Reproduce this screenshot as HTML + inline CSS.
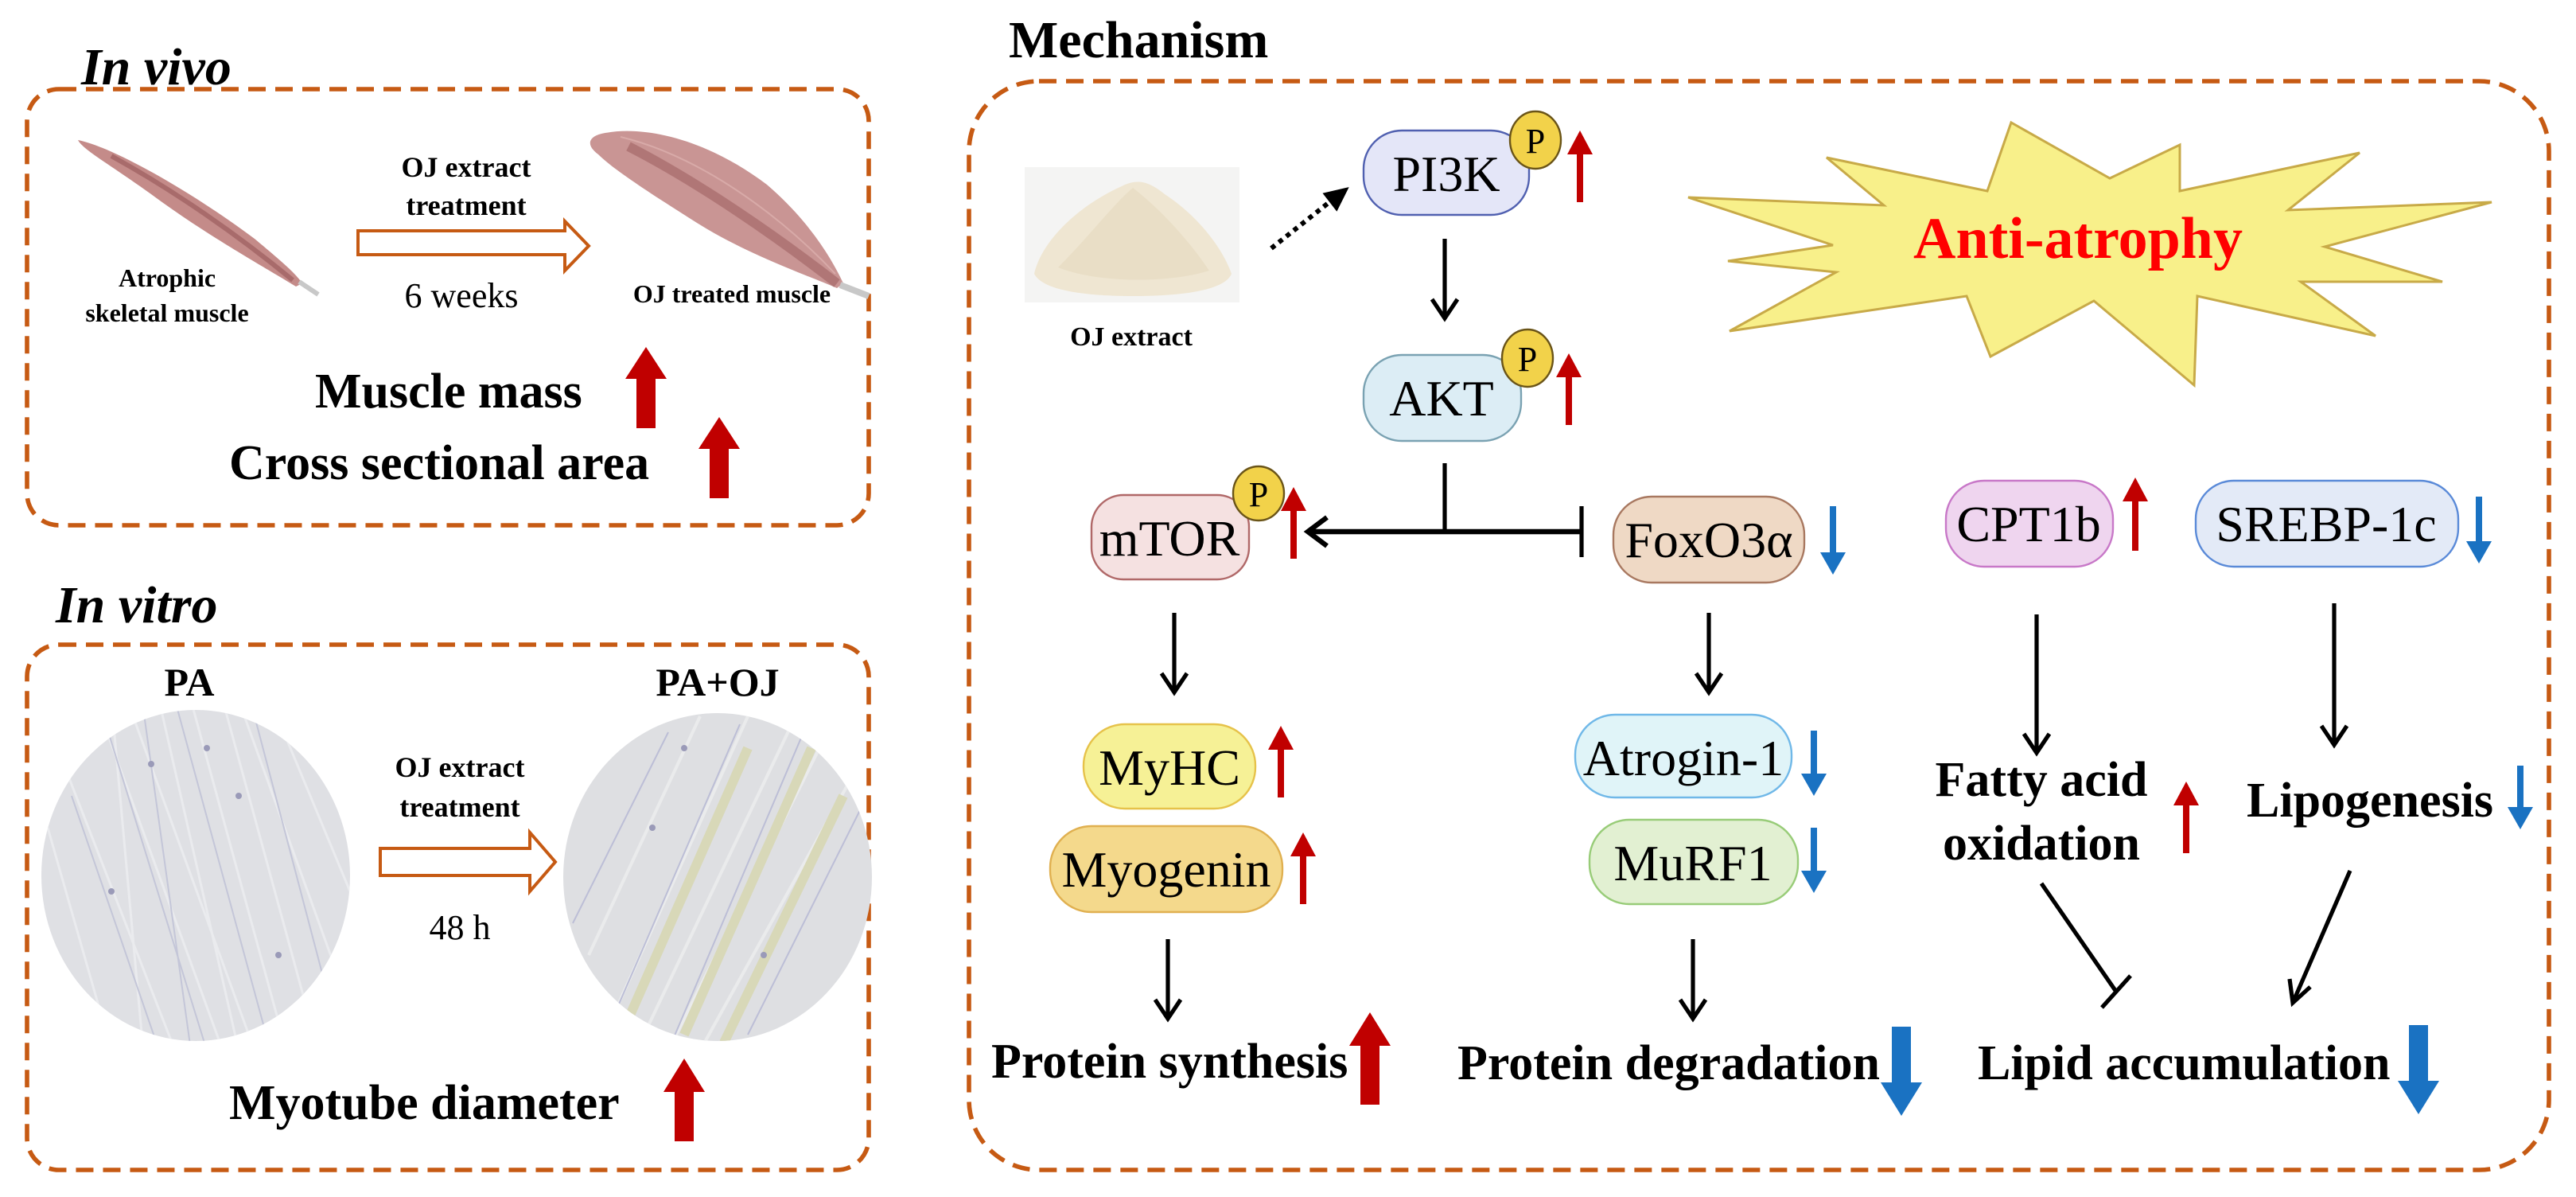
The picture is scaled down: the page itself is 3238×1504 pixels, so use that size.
<!DOCTYPE html>
<html><head><meta charset="utf-8"><style>
html,body{margin:0;padding:0;background:#fff;}
svg{display:block;}
text{font-family:"Liberation Serif",serif;}
</style></head><body>
<svg width="3238" height="1504" viewBox="0 0 1619 752" xmlns="http://www.w3.org/2000/svg">
<defs>
<clipPath id="c1"><ellipse cx="123" cy="550" rx="97" ry="104"/></clipPath>
<clipPath id="c2"><ellipse cx="451" cy="551" rx="97" ry="103"/></clipPath>
</defs>
<rect width="1619" height="752" fill="#fff"/>

<text x="51" y="53" font-size="33" font-weight="bold" font-style="italic">In vivo</text>
<text x="35" y="391" font-size="33" font-weight="bold" font-style="italic">In vitro</text>
<text x="634" y="36" font-size="33" font-weight="bold">Mechanism</text>

<g fill="none" stroke="#c65a13" stroke-width="2.8" stroke-dasharray="11 6">
<rect x="17" y="56" width="529" height="274" rx="20"/>
<rect x="17" y="405" width="529" height="330" rx="20"/>
<rect x="609" y="51" width="993" height="684" rx="44"/>
</g>

<g>
<path d="M49,88 C70,92 120,120 160,150 C178,165 186,172 190,178 L186,180 C170,170 130,148 95,122 C70,104 52,94 49,88 Z" fill="#c48b89"/>
<path d="M70,98 C110,120 150,148 184,176" stroke="#a86b6b" stroke-width="3" fill="none"/>
<path d="M188,177 L200,185" stroke="#c8c8c8" stroke-width="3"/>
<path d="M378,84 C405,78 445,88 482,116 C510,140 524,165 530,178 L526,181 C505,172 470,160 438,140 C408,121 385,106 376,97 C368,91 370,86 378,84 Z" fill="#c99594"/>
<path d="M395,92 C440,115 490,150 526,178" stroke="#b07676" stroke-width="6" fill="none"/>
<path d="M390,86 C440,98 490,135 525,172" stroke="#d8aaa8" stroke-width="1" fill="none"/>
<path d="M528,179 L546,186" stroke="#c8c8c8" stroke-width="4"/>
<text x="105" y="180" font-size="16" font-weight="bold" text-anchor="middle">Atrophic</text>
<text x="105" y="202" font-size="16" font-weight="bold" text-anchor="middle">skeletal muscle</text>
<text x="293" y="111" font-size="18" font-weight="bold" text-anchor="middle">OJ extract</text>
<text x="293" y="135" font-size="18" font-weight="bold" text-anchor="middle">treatment</text>
<path d="M225,145 L355,145 L355,139 L370,154.5 L355,170 L355,160 L225,160 Z" fill="#fff" stroke="#c65a13" stroke-width="2"/>
<text x="290" y="193" font-size="22" text-anchor="middle">6 weeks</text>
<text x="460" y="190" font-size="16" font-weight="bold" text-anchor="middle">OJ treated muscle</text>
<text x="198" y="256" font-size="31" font-weight="bold">Muscle mass</text>
<text x="144" y="301" font-size="31" font-weight="bold">Cross sectional area</text>
<path d="M400,269 L400,238 L393,238 L406,218 L419,238 L412,238 L412,269 Z" fill="#c00000"/>
<path d="M446,313 L446,282 L439,282 L452,262 L465,282 L458,282 L458,313 Z" fill="#c00000"/>
</g>

<text x="119" y="437" font-size="25" font-weight="bold" text-anchor="middle">PA</text>
<text x="451" y="437" font-size="25" font-weight="bold" text-anchor="middle">PA+OJ</text>
<ellipse cx="123" cy="550" rx="97" ry="104" fill="#dfe0e4"/>
<g clip-path="url(#c1)" stroke-width="1" fill="none">
<path d="M60,440 L140,660 M80,440 L160,660 M100,440 L150,660 M120,440 L180,660 M140,440 L200,660 M40,480 L110,660 M150,440 L215,620 M70,440 L90,660 M170,440 L220,560 M30,520 L70,660" stroke="#eaebee" stroke-width="1.5"/>
<path d="M65,450 L130,660 M110,440 L170,660 M45,500 L100,660 M160,450 L210,640 M90,445 L120,660" stroke="#c4c6d8"/>
<circle cx="95" cy="480" r="2" fill="#9a9ab8"/><circle cx="150" cy="500" r="2" fill="#9a9ab8"/><circle cx="70" cy="560" r="2" fill="#9a9ab8"/><circle cx="175" cy="600" r="2" fill="#9a9ab8"/><circle cx="130" cy="470" r="2" fill="#9a9ab8"/>
</g>
<ellipse cx="451" cy="551" rx="97" ry="103" fill="#dedfe2"/>
<g clip-path="url(#c2)" fill="none">
<path d="M380,650 L470,450 M400,660 L500,450 M420,660 L520,460 M370,600 L440,450 M440,660 L540,480" stroke="#eaebec" stroke-width="2"/>
<path d="M395,640 L470,470 M430,650 L510,470 M455,655 L530,500" stroke="#d8d8b8" stroke-width="6"/>
<path d="M385,640 L465,455 M420,660 L505,460 M470,650 L545,500 M360,580 L420,460" stroke="#bcbed6" stroke-width="1"/>
<circle cx="410" cy="520" r="2" fill="#9a9ab8"/><circle cx="480" cy="600" r="2" fill="#9a9ab8"/><circle cx="430" cy="470" r="2" fill="#9a9ab8"/>
</g>
<text x="289" y="488" font-size="18" font-weight="bold" text-anchor="middle">OJ extract</text>
<text x="289" y="513" font-size="18" font-weight="bold" text-anchor="middle">treatment</text>
<path d="M239,533 L333,533 L333,523 L349,541.5 L333,560 L333,550 L239,550 Z" fill="#fff" stroke="#c65a13" stroke-width="2"/>
<text x="289" y="590" font-size="22" text-anchor="middle">48 h</text>
<text x="144" y="703" font-size="31" font-weight="bold">Myotube diameter</text>
<path d="M424,717 L424,686 L417,686 L430,665 L443,686 L436,686 L436,717 Z" fill="#c00000"/>

<rect x="644" y="105" width="135" height="85" fill="#f4f4f3"/>
<path d="M650,172 C655,150 680,128 705,117 C715,112 722,114 732,122 C752,135 768,155 774,172 C770,182 745,186 712,186 C680,186 655,182 650,172 Z" fill="#efe6d2"/>
<path d="M665,168 C685,148 700,128 712,118 C730,132 748,152 760,170 C735,178 690,178 665,168 Z" fill="#e9dec6"/>
<text x="711" y="217" font-size="17" font-weight="bold" text-anchor="middle">OJ extract</text>

<line x1="799" y1="156" x2="838" y2="125" stroke="#000" stroke-width="3" stroke-dasharray="3 3"/>
<path d="M846,119 L833,122 L840,131 Z" fill="#000" stroke="#000" stroke-width="2"/>

<polygon points="1061,124 1184,129 1148,99 1249,120 1264,77 1326,112 1370,91 1370,120 1483,96 1438,132 1566,127 1461,155 1535,177 1446,177 1493,211 1381,186 1379,242 1316,189 1251,224 1236,186 1087,208 1154,171 1086,164 1152,154" fill="#f8f08a" stroke="#c8aa48" stroke-width="1.5"/>
<text x="1306" y="162" font-size="37" font-weight="bold" fill="#ff0000" text-anchor="middle">Anti-atrophy</text>

<g font-size="32" text-anchor="middle">
<rect x="857" y="82" width="104" height="53" rx="24" fill="#e4e6f8" stroke="#5060b0" stroke-width="1.2"/>
<text x="909" y="120">PI3K</text>
<rect x="857" y="223" width="99" height="54" rx="24" fill="#dcedf5" stroke="#7aa2b2" stroke-width="1.2"/>
<text x="906" y="261">AKT</text>
<rect x="686" y="311" width="99" height="53" rx="20" fill="#f5e1e1" stroke="#b06868" stroke-width="1.2"/>
<text x="735" y="349">mTOR</text>
<rect x="1014" y="312" width="120" height="54" rx="24" fill="#efd9c5" stroke="#a87860" stroke-width="1.2"/>
<text x="1074" y="350">FoxO3α</text>
<rect x="1223" y="302" width="105" height="54" rx="24" fill="#efd5ef" stroke="#c878c8" stroke-width="1.2"/>
<text x="1275" y="340">CPT1b</text>
<rect x="1380" y="302" width="165" height="54" rx="24" fill="#e3eaf7" stroke="#5a8ad8" stroke-width="1.2"/>
<text x="1462" y="340">SREBP-1c</text>
<rect x="681" y="455" width="108" height="53" rx="26" fill="#f6f196" stroke="#e6c24a" stroke-width="1.2"/>
<text x="735" y="493">MyHC</text>
<rect x="660" y="519" width="146" height="54" rx="26" fill="#f4d98c" stroke="#e0b050" stroke-width="1.2"/>
<text x="733" y="557">Myogenin</text>
<rect x="990" y="449" width="136" height="52" rx="25" fill="#e0f4f8" stroke="#70b8e8" stroke-width="1.2"/>
<text x="1058" y="487">Atrogin-1</text>
<rect x="999" y="515" width="131" height="53" rx="25" fill="#e2f0d2" stroke="#98cc78" stroke-width="1.2"/>
<text x="1064" y="553">MuRF1</text>
</g>

<g font-size="22" text-anchor="middle">
<ellipse cx="965" cy="88" rx="16" ry="18" fill="#f2d24a" stroke="#6a5418" stroke-width="1.2"/>
<text x="965" y="96">P</text>
<ellipse cx="960" cy="225" rx="16" ry="18" fill="#f2d24a" stroke="#6a5418" stroke-width="1.2"/>
<text x="960" y="233">P</text>
<ellipse cx="791" cy="310" rx="16" ry="17" fill="#f2d24a" stroke="#6a5418" stroke-width="1.2"/>
<text x="791" y="318">P</text>
</g>

<g stroke="#000" stroke-width="2.6" fill="none">
<line x1="908" y1="150" x2="908" y2="200"/><path d="M900,188 L908,200 L916,188"/>
<line x1="908" y1="291" x2="908" y2="334"/>
<line x1="822" y1="334" x2="994" y2="334" stroke-width="3.2"/>
<path d="M834,325 L822,334 L834,343" stroke-width="3.2"/>
<line x1="994" y1="318" x2="994" y2="350" stroke-width="2.6"/>
<line x1="738" y1="385" x2="738" y2="435"/><path d="M730,423 L738,435 L746,423"/>
<line x1="734" y1="590" x2="734" y2="640"/><path d="M726,628 L734,640 L742,628"/>
<line x1="1074" y1="385" x2="1074" y2="435"/><path d="M1066,423 L1074,435 L1082,423"/>
<line x1="1064" y1="590" x2="1064" y2="640"/><path d="M1056,628 L1064,640 L1072,628"/>
<line x1="1280" y1="386" x2="1280" y2="473"/><path d="M1272,461 L1280,473 L1288,461"/>
<line x1="1467" y1="379" x2="1467" y2="468"/><path d="M1459,456 L1467,468 L1475,456"/>
<line x1="1283" y1="555" x2="1330" y2="623"/><line x1="1321" y1="633" x2="1339" y2="613"/>
<line x1="1477" y1="547" x2="1441" y2="630"/><path d="M1439,615 L1441,630 L1452,620"/>
</g>

<g fill="#c00000">
<path d="M991,127 L991,97 L985,97 L993,82 L1001,97 L995,97 L995,127 Z"/>
<path d="M984,267 L984,237 L978,237 L986,222 L994,237 L988,237 L988,267 Z"/>
<path d="M811,351 L811,321 L805,321 L813,306 L821,321 L815,321 L815,351 Z"/>
<path d="M1340,346 L1340,315 L1334,315 L1342,300 L1350,315 L1344,315 L1344,346 Z"/>
<path d="M803,501 L803,471 L797,471 L805,456 L813,471 L807,471 L807,501 Z"/>
<path d="M817,568 L817,538 L811,538 L819,523 L827,538 L821,538 L821,568 Z"/>
<path d="M1372,536 L1372,506 L1366,506 L1374,491 L1382,506 L1376,506 L1376,536 Z"/>
<path d="M855,694 L855,657 L848,657 L861,636 L874,657 L867,657 L867,694 Z"/>
</g>
<g fill="#1a72c2">
<path d="M1150,318 L1150,347 L1144,347 L1152,361 L1160,347 L1154,347 L1154,318 Z"/>
<path d="M1556,312 L1556,340 L1550,340 L1558,354 L1566,340 L1560,340 L1560,312 Z"/>
<path d="M1138,459 L1138,486 L1132,486 L1140,500 L1148,486 L1142,486 L1142,459 Z"/>
<path d="M1138,520 L1138,547 L1132,547 L1140,561 L1148,547 L1142,547 L1142,520 Z"/>
<path d="M1582,481 L1582,507 L1576,507 L1584,521 L1592,507 L1586,507 L1586,481 Z"/>
<path d="M1189,645 L1189,680 L1182,680 L1195,701 L1208,680 L1201,680 L1201,645 Z"/>
<path d="M1514,644 L1514,679 L1507,679 L1520,700 L1533,679 L1526,679 L1526,644 Z"/>
</g>

<g font-size="31" font-weight="bold">
<text x="623" y="677">Protein synthesis</text>
<text x="916" y="678">Protein degradation</text>
<text x="1243" y="678">Lipid accumulation</text>
<text x="1283" y="500" text-anchor="middle">Fatty acid</text>
<text x="1283" y="540" text-anchor="middle">oxidation</text>
<text x="1412" y="513">Lipogenesis</text>
</g>
</svg>
</body></html>
